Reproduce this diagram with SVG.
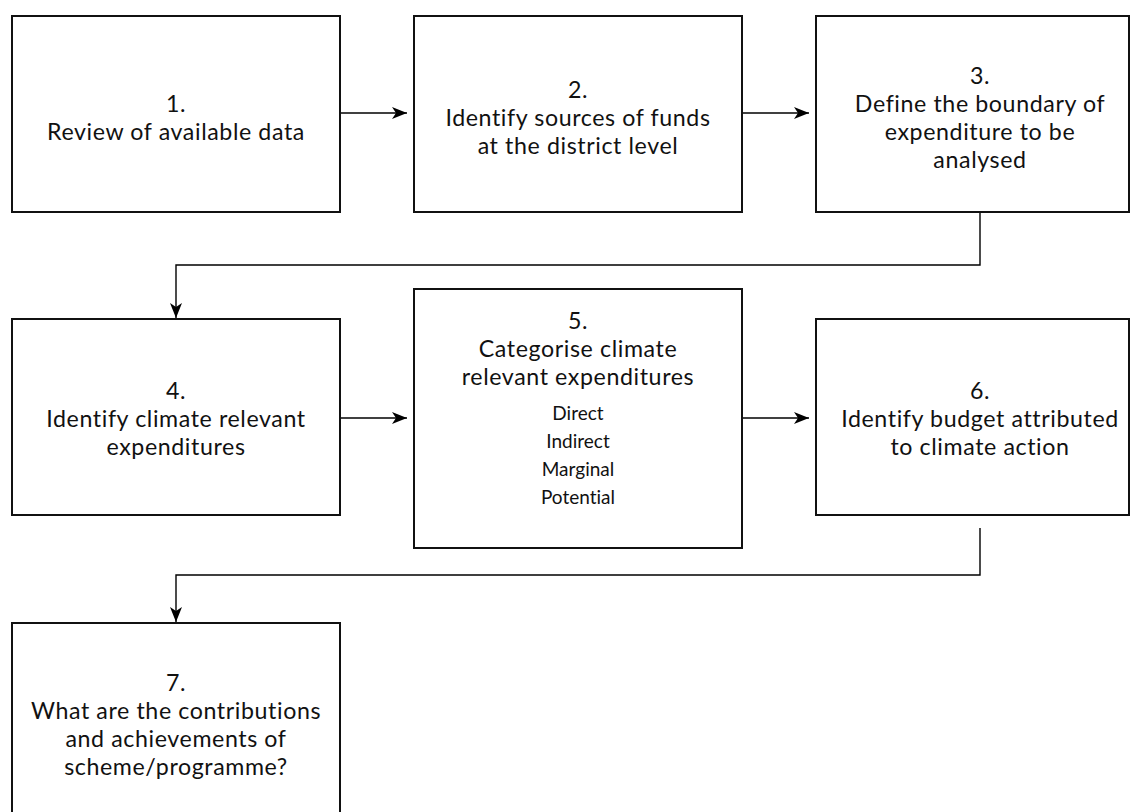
<svg xmlns="http://www.w3.org/2000/svg" width="1132" height="812" viewBox="0 0 1132 812">
  <style>
    .box { fill: #ffffff; stroke: #111111; stroke-width: 2; }
    .t { font-family: Lato, "Open Sans", "Liberation Sans", sans-serif; font-size: 23.2px; letter-spacing: 0.6px; fill: #111111; text-anchor: middle; font-variant-ligatures: none; }
    .s { font-family: Lato, "Open Sans", "Liberation Sans", sans-serif; font-size: 19px; fill: #111111; text-anchor: middle; font-variant-ligatures: none; }
    .conn { fill: none; stroke: #000000; stroke-width: 1.4; }
  </style>
  <defs>
    <marker id="arrow" markerWidth="16" markerHeight="14" refX="15" refY="7" orient="auto" markerUnits="userSpaceOnUse">
      <path d="M0,1 L15,7 L0,13 L4,7 Z" fill="#000000"/>
    </marker>
  </defs>
  <rect width="1132" height="812" fill="#ffffff"/>

  <g id="node1">
    <rect class="box" x="12" y="16" width="328" height="196"/>
    <text class="t" x="176" y="111.5">1.</text>
    <text class="t" x="176" y="139.5">Review of available data</text>
  </g>
  <g id="node2">
    <rect class="box" x="414" y="16" width="328" height="196"/>
    <text class="t" x="578" y="97.5">2.</text>
    <text class="t" x="578" y="125.5">Identify sources of funds</text>
    <text class="t" x="578" y="153.5">at the district level</text>
  </g>
  <g id="node3">
    <rect class="box" x="816" y="16" width="313" height="196"/>
    <text class="t" x="980" y="83.5">3.</text>
    <text class="t" x="980" y="111.5">Define the boundary of</text>
    <text class="t" x="980" y="139.5">expenditure to be</text>
    <text class="t" x="980" y="167.5">analysed</text>
  </g>
  <g id="node4">
    <rect class="box" x="12" y="319" width="328" height="196"/>
    <text class="t" x="176" y="398.5">4.</text>
    <text class="t" x="176" y="426.5">Identify climate relevant</text>
    <text class="t" x="176" y="454.5">expenditures</text>
  </g>
  <g id="node5">
    <rect class="box" x="414" y="289" width="328" height="259"/>
    <text class="t" x="578" y="328.5">5.</text>
    <text class="t" x="578" y="356.5">Categorise climate</text>
    <text class="t" x="578" y="384.5">relevant expenditures</text>
    <text class="s" x="578" y="420">Direct</text>
    <text class="s" x="578" y="448">Indirect</text>
    <text class="s" x="578" y="476">Marginal</text>
    <text class="s" x="578" y="504">Potential</text>
  </g>
  <g id="node6">
    <rect class="box" x="816" y="319" width="313" height="196"/>
    <text class="t" x="980" y="398.5">6.</text>
    <text class="t" x="980" y="426.5">Identify budget attributed</text>
    <text class="t" x="980" y="454.5">to climate action</text>
  </g>
  <g id="node7">
    <rect class="box" x="12" y="623" width="328" height="196"/>
    <text class="t" x="176" y="690.5">7.</text>
    <text class="t" x="176" y="718.5">What are the contributions</text>
    <text class="t" x="176" y="746.5">and achievements of</text>
    <text class="t" x="176" y="774.5">scheme/programme?</text>
  </g>

  <g id="connectors">
    <path class="conn" d="M341,113 H407" marker-end="url(#arrow)"/>
    <path class="conn" d="M743,113 H809" marker-end="url(#arrow)"/>
    <path class="conn" d="M980,213 V265 H176 V318" marker-end="url(#arrow)"/>
    <path class="conn" d="M341,418 H407" marker-end="url(#arrow)"/>
    <path class="conn" d="M743,418 H809" marker-end="url(#arrow)"/>
    <path class="conn" d="M980,528 V575 H176 V622" marker-end="url(#arrow)"/>
  </g>
</svg>
